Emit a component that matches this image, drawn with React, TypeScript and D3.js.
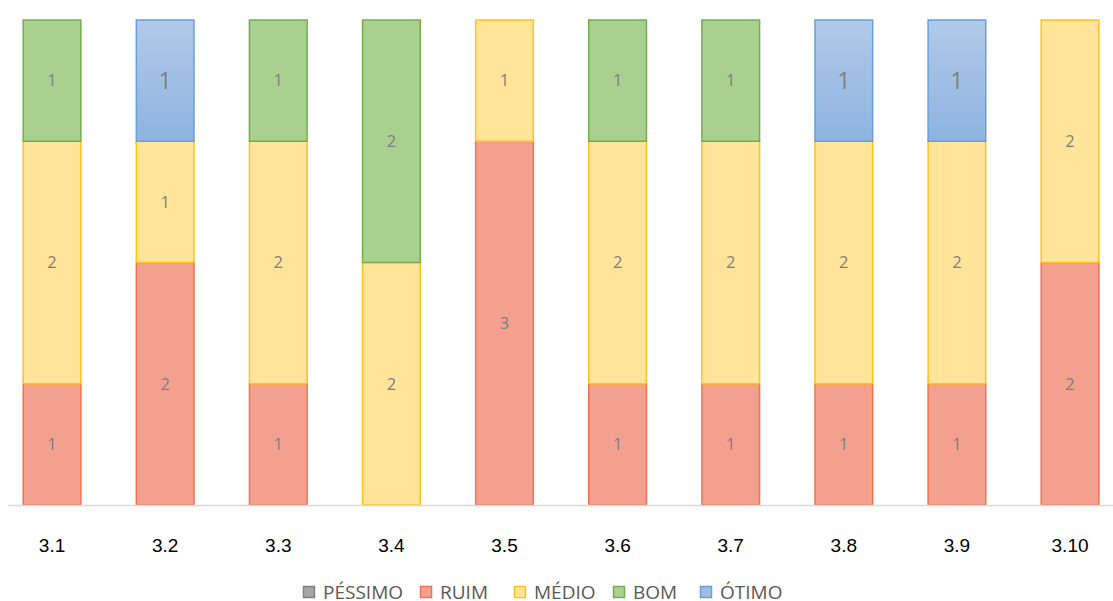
import React from "react";
import * as d3 from "d3";

// Question items on the x axis
const categories = ["3.1", "3.2", "3.3", "3.4", "3.5", "3.6", "3.7", "3.8", "3.9", "3.10"];

// Answer counts per rating, one value per question item
const pessimo = [0, 0, 0, 0, 0, 0, 0, 0, 0, 0];
const ruim = [1, 2, 1, 0, 3, 1, 1, 1, 1, 2];
const medio = [2, 1, 2, 2, 1, 2, 2, 2, 2, 2];
const bom = [1, 0, 1, 2, 0, 1, 1, 0, 0, 0];
const otimo = [0, 1, 0, 0, 0, 0, 0, 1, 1, 0];

const seriesNames = ["PÉSSIMO", "RUIM", "MÉDIO", "BOM", "ÓTIMO"];
const seriesValues = [pessimo, ruim, medio, bom, otimo];

const fills = ["#A5A5A5", "#F4A090", "#FFE499", "#A9D08E", "url(#blueGrad)"];
const strokes = ["#7F7F7F", "#EE7350", "#FFC21A", "#74AE4C", "#6A9FD6"];
const labelSizes = [16.5, 16.5, 16.5, 16.5, 23];

const W = 1113;
const H = 601;

export default function App() {
  const x = d3
    .scaleBand<string>()
    .domain(categories)
    .range([-4.5, 1126.6])
    .paddingInner(0.49)
    .paddingOuter(0.245);

  const y = d3.scaleLinear().domain([0, 4]).range([505, 20]);

  const rows = categories.map((c, i) => {
    const r: Record<string, number | string> = { cat: c };
    seriesNames.forEach((s, k) => (r[s] = seriesValues[k][i]));
    return r;
  });
  const stacked = d3.stack<Record<string, number | string>>().keys(seriesNames)(rows as any);

  // legend item left edges
  const legendX = [303, 420, 514, 613, 700];

  return (
    <svg
      width={W}
      height={H}
      style={{ position: "fixed", left: 0, top: 0, background: "#fff" }}
    >
      <defs>
        <linearGradient id="blueGrad" x1="0" y1="0" x2="0" y2="1">
          <stop offset="0" stopColor="#B1C9E8" />
          <stop offset="1" stopColor="#8DB3E1" />
        </linearGradient>
      </defs>

      {stacked.map((layer, k) => (
        <g key={seriesNames[k]}>
          {layer.map((d, i) => {
            const v = d[1] - d[0];
            if (v <= 0) return null;
            const x0 = x(categories[i])!;
            const y0 = y(d[1]);
            const h = y(d[0]) - y(d[1]);
            return (
              <g key={i}>
                <rect
                  x={x0}
                  y={y0}
                  width={x.bandwidth()}
                  height={h}
                  fill={fills[k]}
                  stroke={strokes[k]}
                  strokeWidth={1.5}
                />
                <text
                  x={x0 + x.bandwidth() / 2}
                  y={y0 + h / 2}
                  dy="0.35em"
                  textAnchor="middle"
                  fontFamily="'Open Sans', 'Noto Sans', sans-serif"
                  fontSize={labelSizes[k]}
                  fill="#7F7F7F"
                >
                  {v}
                </text>
              </g>
            );
          })}
        </g>
      ))}

      <line x1={8} x2={W} y1={505.5} y2={505.5} stroke="#D9D9D9" strokeWidth={1.5} />

      {categories.map((c) => (
        <text
          key={c}
          x={x(c)! + x.bandwidth() / 2}
          y={552}
          textAnchor="middle"
          fontFamily="'Liberation Sans', Arial, sans-serif"
          fontSize={19}
          fill="#000"
        >
          {c}
        </text>
      ))}

      {seriesNames.map((s, k) => (
        <g key={s} transform={`translate(${legendX[k]},586)`}>
          <rect
            x={0.5}
            y={0.5}
            width={11}
            height={11}
            fill={k === 4 ? "#9DBDE5" : fills[k]}
            stroke={strokes[k]}
            strokeWidth={1.5}
          />
          <text
            x={20}
            y={6}
            dy="0.36em"
            fontFamily="'Open Sans', 'Noto Sans', sans-serif"
            fontSize={19}
            fill="#595959"
          >
            {s}
          </text>
        </g>
      ))}
    </svg>
  );
}
